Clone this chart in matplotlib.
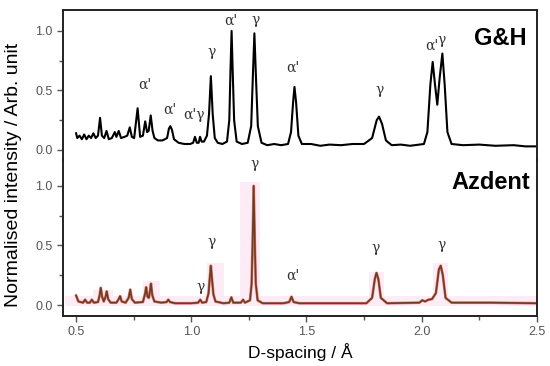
import matplotlib
matplotlib.use("Agg")
import matplotlib.pyplot as plt
from matplotlib.ticker import MultipleLocator

plt.rcParams["font.family"] = ["Liberation Sans", "DejaVu Sans"]

# ---------------- data ----------------
# G&H diffraction pattern (top panel)
gh_x = [0.50, 0.505, 0.515, 0.525, 0.535, 0.545, 0.555, 0.565, 0.575, 0.585, 0.595,
        0.604, 0.612, 0.622, 0.632, 0.642, 0.655, 0.668, 0.675, 0.685, 0.695, 0.71,
        0.722, 0.733, 0.742, 0.752, 0.767, 0.778, 0.79, 0.800, 0.808, 0.815, 0.824,
        0.832, 0.84, 0.855, 0.875, 0.895, 0.903, 0.909, 0.916, 0.925, 0.945, 0.97,
        0.995, 1.008, 1.016, 1.024, 1.032, 1.038, 1.045, 1.055, 1.068, 1.077, 1.085,
        1.093, 1.102, 1.115, 1.135, 1.155, 1.165, 1.170, 1.175, 1.180, 1.186, 1.197,
        1.22, 1.245, 1.260, 1.267, 1.274, 1.281, 1.289, 1.305, 1.33, 1.36, 1.39, 1.42,
        1.433, 1.442, 1.448, 1.455, 1.465, 1.48, 1.52, 1.56, 1.60, 1.65, 1.70, 1.75,
        1.785, 1.805, 1.815, 1.828, 1.845, 1.87, 1.91, 1.95, 2.01, 2.025, 2.038, 2.048,
        2.058, 2.068, 2.078, 2.090, 2.100, 2.112, 2.13, 2.18, 2.25, 2.32, 2.4, 2.45, 2.5]
gh_y = [0.14, 0.10, 0.12, 0.09, 0.13, 0.09, 0.12, 0.10, 0.14, 0.10, 0.12,
        0.27, 0.12, 0.10, 0.16, 0.09, 0.10, 0.15, 0.11, 0.16, 0.10, 0.11,
        0.12, 0.19, 0.11, 0.10, 0.35, 0.11, 0.12, 0.24, 0.15, 0.16, 0.29,
        0.16, 0.10, 0.08, 0.08, 0.10, 0.18, 0.20, 0.17, 0.09, 0.06, 0.05,
        0.05, 0.06, 0.11, 0.06, 0.06, 0.11, 0.07, 0.07, 0.12, 0.30, 0.62,
        0.30, 0.10, 0.06, 0.05, 0.07, 0.25, 0.65, 1.00, 0.65, 0.25, 0.07,
        0.05, 0.06, 0.20, 0.60, 0.98, 0.60, 0.20, 0.06, 0.04, 0.05, 0.04, 0.05,
        0.15, 0.40, 0.53, 0.40, 0.12, 0.05, 0.05, 0.035, 0.045, 0.04, 0.05, 0.05,
        0.10, 0.25, 0.28, 0.22, 0.08, 0.04, 0.045, 0.035, 0.05, 0.15, 0.55, 0.74,
        0.55, 0.38, 0.60, 0.81, 0.55, 0.15, 0.05, 0.04, 0.045, 0.035, 0.04, 0.03, 0.03]

# Azdent diffraction pattern (bottom panel)
az_x = [0.50, 0.51, 0.53, 0.539, 0.548, 0.56, 0.568, 0.577, 0.595, 0.602, 0.607,
        0.613, 0.62, 0.628, 0.633, 0.639, 0.65, 0.675, 0.685, 0.691, 0.698, 0.715,
        0.728, 0.735, 0.742, 0.755, 0.79, 0.80, 0.804, 0.81, 0.816, 0.821, 0.825,
        0.831, 0.84, 0.87, 0.893, 0.90, 0.908, 0.93, 1.0, 1.03, 1.039, 1.047, 1.065,
        1.075, 1.080, 1.085, 1.090, 1.096, 1.105, 1.14, 1.165, 1.174, 1.182, 1.215,
        1.225, 1.233, 1.255, 1.262, 1.266, 1.271, 1.276, 1.280, 1.288, 1.31, 1.40,
        1.425, 1.435, 1.444, 1.47, 1.60, 1.76, 1.785, 1.797, 1.804, 1.812, 1.823,
        1.85, 1.99, 2.003, 2.015, 2.03, 2.045, 2.062, 2.075, 2.083, 2.092, 2.104,
        2.13, 2.30, 2.5]
az_y = [0.08, 0.03, 0.02, 0.045, 0.02, 0.02, 0.045, 0.02, 0.025, 0.08, 0.145,
        0.07, 0.03, 0.07, 0.115, 0.05, 0.02, 0.02, 0.05, 0.075, 0.03, 0.02,
        0.06, 0.13, 0.05, 0.02, 0.025, 0.10, 0.15, 0.07, 0.06, 0.12, 0.18,
        0.08, 0.03, 0.02, 0.025, 0.045, 0.025, 0.015, 0.015, 0.02, 0.045, 0.02, 0.025,
        0.10, 0.22, 0.33, 0.22, 0.09, 0.03, 0.015, 0.02, 0.065, 0.02, 0.02,
        0.045, 0.02, 0.04, 0.18, 0.50, 1.00, 0.50, 0.18, 0.04, 0.015, 0.015,
        0.025, 0.07, 0.025, 0.015, 0.015, 0.015, 0.06, 0.22, 0.27, 0.22, 0.06,
        0.015, 0.02, 0.04, 0.03, 0.045, 0.05, 0.10, 0.30, 0.33, 0.25, 0.06,
        0.02, 0.02, 0.015]

# pink shaded background of the bottom panel (step edges and heights)
pink_edges = [0.45, 0.575, 0.66, 0.79, 0.865, 1.07, 1.14, 1.213, 1.30, 1.77, 1.835, 2.048, 2.113, 2.5]
pink_tops = [0.08, 0.13, 0.08, 0.20, 0.08, 0.35, 0.08, 1.03, 0.08, 0.28, 0.08, 0.35, 0.08, 0.08]

# peak labels: (x, y, text)
gh_labels = [(0.800, 0.55, "α'"), (0.909, 0.34, "α'"), (1.013, 0.29, "α'γ"),
             (1.087, 0.82, "γ"), (1.174, 1.09, "α'"), (1.278, 1.09, "γ"),
             (1.443, 0.69, "α'"), (1.817, 0.50, "γ"), (2.045, 0.88, "α'"),
             (2.088, 0.92, "γ")]
az_labels = [(1.040, 0.15, "γ"), (1.087, 0.53, "γ"), (1.274, 1.18, "γ"),
             (1.439, 0.25, "α'"), (1.802, 0.48, "γ"), (2.087, 0.50, "γ")]

x_ticks = [0.5, 1.0, 1.5, 2.0, 2.5]
y_ticks = [0.0, 0.5, 1.0]

# ---------------- figure ----------------
fig = plt.figure(figsize=(5.5, 3.66), dpi=100)
L, R = 0.1145, 0.976
ax_top = fig.add_axes([L, 0.563, R - L, 0.9727 - 0.563])
ax_bot = fig.add_axes([L, 0.1366, R - L, 0.563 - 0.1366])

xlim = (0.443, 2.5)
tick_col = "#555555"
lab_col = "#333333"

# top panel
ax_top.plot(gh_x, gh_y, color="black", lw=1.5, solid_joinstyle="round")
ax_top.set_xlim(*xlim)
ax_top.set_ylim(-0.084, 1.176)
ax_top.spines["bottom"].set_visible(False)
ax_top.tick_params(axis="x", bottom=False, labelbottom=False)
ax_top.text(2.343, 0.94, "G&H", fontsize=17, fontweight="bold", ha="center", va="center")
for x, y, t in gh_labels:
    ax_top.text(x, y, t, fontsize=10, family="DejaVu Serif", color=lab_col,
                ha="center", va="center")

# bottom panel
ax_bot.fill_between(pink_edges, -0.01, pink_tops, step="post", color="#fdebf5", lw=0, zorder=0)
ax_bot.plot(az_x, az_y, color="#e03030", lw=2.0, alpha=0.6, solid_joinstyle="round")
ax_bot.plot(az_x, az_y, color="#6b3f1d", lw=1.2, solid_joinstyle="round")
ax_bot.set_xlim(*xlim)
ax_bot.set_ylim(-0.092, 1.218)
ax_bot.spines["top"].set_visible(False)
ax_bot.text(2.30, 1.025, "Azdent", fontsize=17, fontweight="bold", ha="center", va="center")
for x, y, t in az_labels:
    ax_bot.text(x, y, t, fontsize=10, family="DejaVu Serif", color=lab_col,
                ha="center", va="center")
ax_bot.set_xticks(x_ticks)
ax_bot.set_xticklabels([f"{v:.1f}" for v in x_ticks])
ax_bot.xaxis.set_minor_locator(MultipleLocator(0.25))
ax_bot.set_xlabel("D-spacing / Å", fontsize=12.5, labelpad=3)

for ax in (ax_top, ax_bot):
    ax.set_yticks(y_ticks)
    ax.set_yticklabels([f"{v:.1f}" for v in y_ticks])
    ax.yaxis.set_minor_locator(MultipleLocator(0.25))
    ax.tick_params(which="both", direction="out", colors="#555555", labelcolor=tick_col,
                   labelsize=9, length=4, width=1)
    ax.tick_params(which="minor", length=3)
    for s in ax.spines.values():
        s.set_linewidth(1.4)
        s.set_color("#222222")
    ax.set_facecolor("none")

fig.text(0.024, 0.522, "Normalised intensity / Arb. unit", rotation=90, fontsize=14,
         ha="center", va="center")

fig.savefig("out.png", dpi=100)
